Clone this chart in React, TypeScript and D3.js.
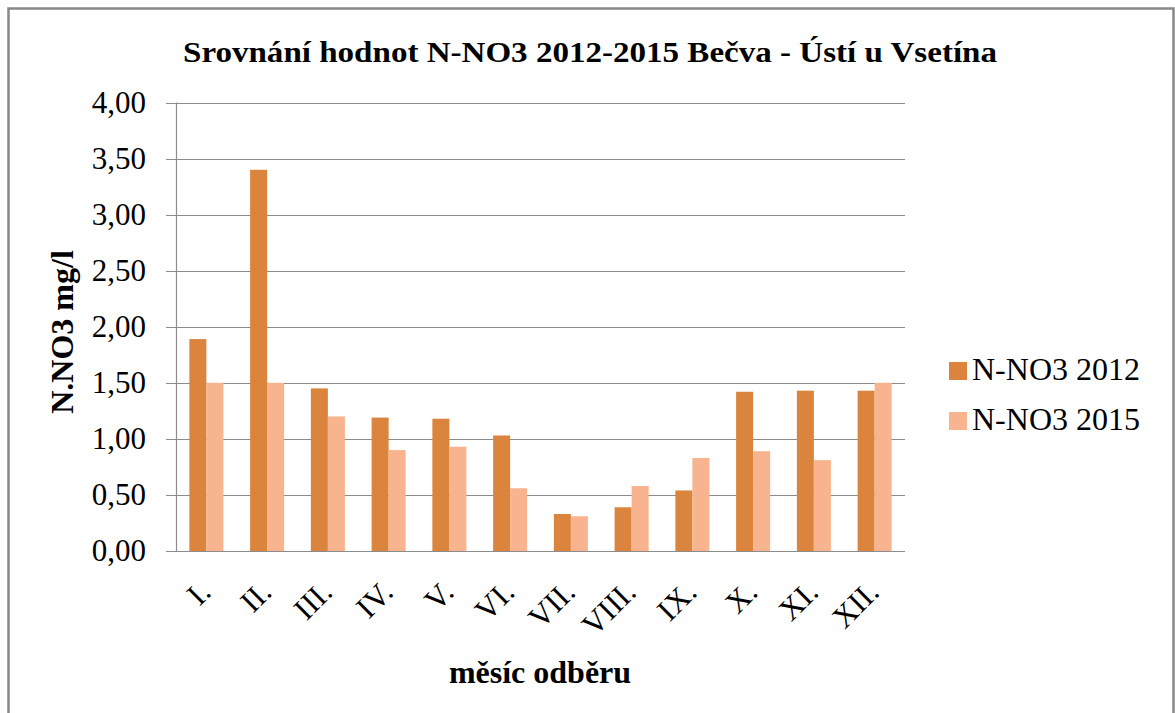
import React from "react";
import * as d3 from "d3";

const months = ["I.", "II.", "III.", "IV.", "V.", "VI.", "VII.", "VIII.", "IX.", "X.", "XI.", "XII."];
const series2012 = [1.89, 3.4, 1.45, 1.19, 1.18, 1.03, 0.33, 0.39, 0.54, 1.42, 1.43, 1.43];
const series2015 = [1.5, 1.5, 1.2, 0.9, 0.93, 0.56, 0.31, 0.58, 0.83, 0.89, 0.81, 1.5];
const seriesNames = ["N-NO3 2012", "N-NO3 2015"];
const colors = ["#DB843D", "#F8B48E"];
const yTicks = [0, 0.5, 1, 1.5, 2, 2.5, 3, 3.5, 4];
const title = "Srovnání hodnot N-NO3 2012-2015 Bečva - Ústí u Vsetína";
const yTitle = "N.NO3 mg/l";
const xTitle = "měsíc odběru";

const W = 1175;
const H = 713;
const plot = { left: 176, right: 905, top: 102.5, bottom: 551 };

export default function App() {
  const x = d3.scaleBand<string>().domain(months).range([plot.left, plot.right]).paddingInner(0.44).paddingOuter(0.22);
  const sub = d3.scaleBand<string>().domain(seriesNames).range([0, x.bandwidth()]);
  const y = d3.scaleLinear().domain([0, 4]).range([plot.bottom, plot.top]);
  const fmt = (v: number) => v.toFixed(2).replace(".", ",");
  const data = [series2012, series2015];
  const font = "'Liberation Serif', 'Times New Roman', serif";

  return (
    <svg width={W} height={H} style={{ position: "absolute", left: 0, top: 0, background: "#fff" }} fontFamily={font}>
      <rect x={8.5} y={8.5} width={1165} height={720} fill="#fff" stroke="#888" strokeWidth={2.5} />
      <text x={590} y={62} textAnchor="middle" fontWeight="bold" fontSize={30} textLength={814} lengthAdjust="spacingAndGlyphs">
        {title}
      </text>
      {yTicks.map((t) => (
        <g key={t}>
          <line x1={plot.left - 10} x2={plot.right} y1={Math.round(y(t)) + 0.5} y2={Math.round(y(t)) + 0.5} stroke="#8c8c8c" strokeWidth={1.2} />
          <text x={146} y={y(t) + 10} textAnchor="end" fontSize={31}>
            {fmt(t)}
          </text>
        </g>
      ))}
      <line x1={plot.left + 0.5} x2={plot.left + 0.5} y1={plot.top} y2={plot.bottom} stroke="#8c8c8c" strokeWidth={1.2} />
      {data.map((vals, si) =>
        vals.map((v, i) => (
          <rect
            key={si + "-" + i}
            x={(x(months[i]) ?? 0) + (sub(seriesNames[si]) ?? 0)}
            y={y(v)}
            width={sub.bandwidth()}
            height={y(0) - y(v)}
            fill={colors[si]}
          />
        ))
      )}
      {months.map((m) => {
        const cx = (x(m) ?? 0) + x.bandwidth() / 2;
        const ax = cx + 6;
        const ay = 594;
        return (
          <text key={m} x={ax} y={ay} textAnchor="end" fontSize={31} transform={`rotate(-45, ${ax}, ${ay})`}>
            {m}
          </text>
        );
      })}
      <text x={540} y={683} textAnchor="middle" fontWeight="bold" fontSize={32}>
        {xTitle}
      </text>
      <text transform={`translate(73, 332) rotate(-90)`} textAnchor="middle" fontWeight="bold" fontSize={32}>
        {yTitle}
      </text>
      {seriesNames.map((n, i) => (
        <g key={n}>
          <rect x={949} y={362 + i * 50} width={18} height={18} fill={colors[i]} />
          <text x={972} y={380 + i * 50} fontSize={32}>
            {n}
          </text>
        </g>
      ))}
    </svg>
  );
}
